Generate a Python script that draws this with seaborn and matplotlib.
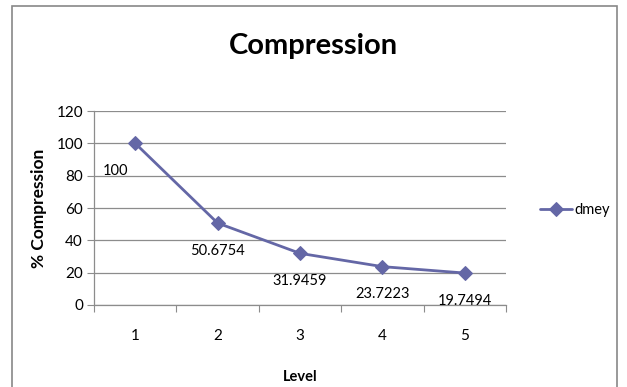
import pandas as pd
import matplotlib.pyplot as plt
import seaborn as sns
from matplotlib.patches import Rectangle

sns.set_style("white")
plt.rcParams["font.family"] = ["Lato", "DejaVu Sans"]
plt.rcParams["font.size"] = 10
plt.rcParams["text.color"] = "black"
plt.rcParams["axes.labelcolor"] = "black"
plt.rcParams["xtick.color"] = "black"
plt.rcParams["ytick.color"] = "black"

# 레벨별 압축률
levels = [1, 2, 3, 4, 5]
compression = [100, 50.6754, 31.9459, 23.7223, 19.7494]
labels = ["100", "50.6754", "31.9459", "23.7223", "19.7494"]
df = pd.DataFrame({"Level": levels, "Compression": compression, "series": "dmey"})

line_col = "#6467A6"
grid_col = "#8C8C8C"

fig = plt.figure(figsize=(6.27, 3.87), dpi=100)
ax = fig.add_axes([0.150, 0.212, 0.657, 0.501])

sns.lineplot(data=df, x="Level", y="Compression", hue="series", palette=[line_col],
             marker="D", markersize=7, markeredgecolor=line_col, linewidth=2, ax=ax)

ax.set_xlim(0.5, 5.5)
ax.set_ylim(0, 120)
ax.set_yticks(range(0, 121, 20))
ax.yaxis.grid(True, color=grid_col, linewidth=0.9)
ax.set_axisbelow(True)

# x 눈금: 구간 경계에 틱, 가운데에 라벨
ax.set_xticks([0.5, 1.5, 2.5, 3.5, 4.5, 5.5])
ax.set_xticklabels([])
ax.set_xticks(levels, minor=True)
ax.set_xticklabels([str(v) for v in levels], minor=True)
ax.tick_params(axis="x", which="major", length=5, color=grid_col, direction="out", bottom=True)
ax.tick_params(axis="x", which="minor", length=0, pad=17, labelsize=11)
ax.tick_params(axis="y", length=5, color=grid_col, direction="out", left=True, labelsize=11, pad=3)

for s in ["top", "right"]:
    ax.spines[s].set_visible(False)
for s in ["left", "bottom"]:
    ax.spines[s].set_color(grid_col)
    ax.spines[s].set_linewidth(0.9)

# 데이터 라벨
offsets = [(-14, -20), (0, -20), (0, -20), (0, -20), (0, -20)]
for x, y, t, o in zip(levels, compression, labels, offsets):
    ax.annotate(t, (x, y), xytext=o, textcoords="offset points", ha="center", va="center", fontsize=10.5)

ax.set_xlabel("Level", fontweight="bold", fontsize=10.5, labelpad=20)
ax.set_ylabel("% Compression", fontweight="bold", fontsize=12.5, labelpad=7)

fig.suptitle("Compression", fontweight="bold", fontsize=21, x=0.5, y=0.915)

leg = ax.legend(loc="center left", bbox_to_anchor=(1.05, 0.49), frameon=False,
                handlelength=2.2, fontsize=10.5, handletextpad=0.2)

# 차트 테두리
fig.patches.append(Rectangle((0.019, -0.02), 0.965, 1.005, transform=fig.transFigure,
                             fill=False, edgecolor="#888888", linewidth=1.2))

fig.savefig("out.png", dpi=100)
